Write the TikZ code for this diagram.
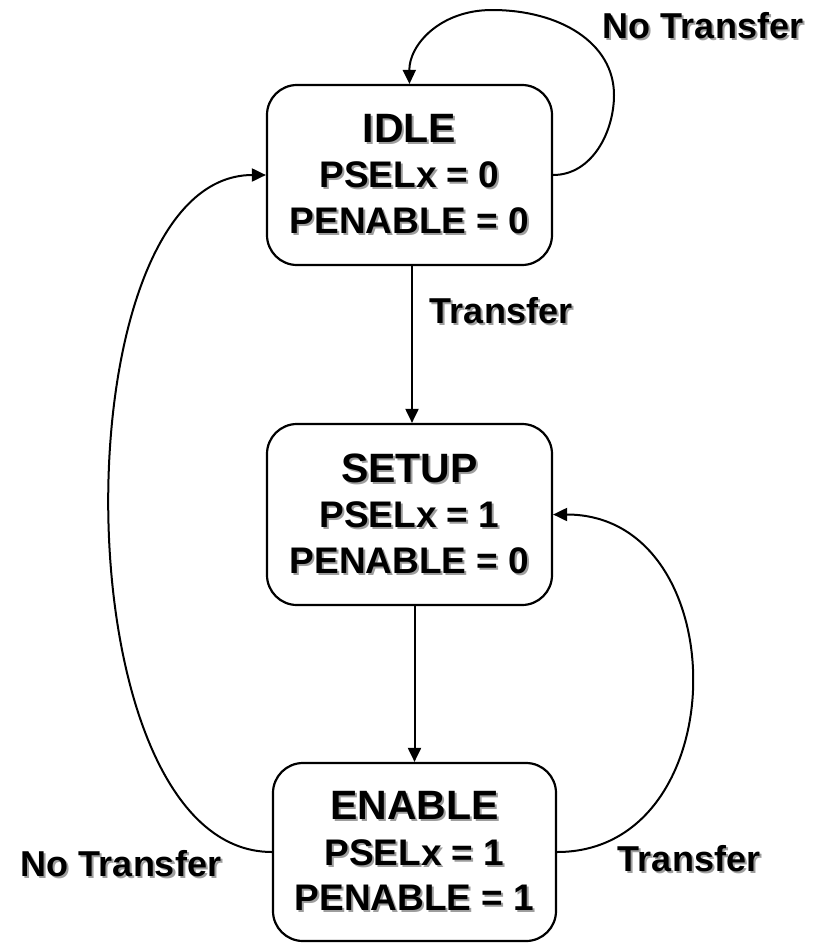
\documentclass[tikz,border=0pt]{standalone}
\usepackage{fontspec}
\setmainfont{Liberation Sans}
\usetikzlibrary{arrows.meta}
\definecolor{shadowgray}{gray}{0.62}
% text with a soft grey drop shadow
\newcommand\shtext[1]{\makebox[0pt][l]{\hspace{2pt}\raisebox{-2pt}{\color{shadowgray}#1}}#1}
\begin{document}
\begin{tikzpicture}[x=1pt,y=-1pt,
  state/.style={draw,line width=2.2pt,rounded corners=30pt,
    minimum width=285pt,inner sep=0pt,align=center,
    font=\bfseries\fontsize{37}{45.5}\selectfont},
  lbl/.style={inner sep=0pt,font=\bfseries\fontsize{36}{43}\selectfont},
  conn/.style={line width=2pt,-{Triangle[length=14pt,width=13pt]}}]
\useasboundingbox (0,0) rectangle (820,943);
\node[state,minimum height=180pt] (idle) at (409.5,175)
  {{\fontsize{41}{45.5}\selectfont\shtext{IDLE}}\\\shtext{PSELx = 0}\\\shtext{PENABLE = 0}};
\node[state,minimum height=181pt] (setup) at (409.5,514.5)
  {{\fontsize{41}{45.5}\selectfont\shtext{SETUP}}\\\shtext{PSELx = 1}\\\shtext{PENABLE = 0}};
\node[state,minimum width=283pt,minimum height=178pt] (enable) at (414.5,852)
  {{\fontsize{41}{45.5}\selectfont\shtext{ENABLE}}\\\shtext{PSELx = 1}\\\shtext{PENABLE = 1}};

\node[lbl] (ltop) at (703,27) {\shtext{No Transfer}};
\node[lbl] (lmid) at (501,312) {\shtext{Transfer}};
\node[lbl] (lleft) at (121,865) {\shtext{No Transfer}};
\node[lbl] (lright) at (689,860) {\shtext{Transfer}};

\coordinate (loopr) at (614,95);
\coordinate (loopt) at (492,10);

% IDLE -> IDLE
\draw[conn] (idle.east) .. controls (592,175) and (614,132) .. (loopr)
  .. controls (614,43) and (560,10) .. (loopt)
  .. controls (440,10) and (409,45) .. (idle.north);
% IDLE -> SETUP
\draw[conn] ([xshift=2.5pt]idle.south) -- ([xshift=2.5pt]setup.north);
% SETUP -> ENABLE
\draw[conn] (enable.north |- setup.south) -- (enable.north);
% ENABLE -> IDLE
\draw[conn] (enable.west) .. controls (57,852) and (57,175) .. (idle.west);
% ENABLE -> SETUP
\draw[conn] (enable.east) .. controls (737,852) and (737,514.5) .. (setup.east);
\end{tikzpicture}
\end{document}
